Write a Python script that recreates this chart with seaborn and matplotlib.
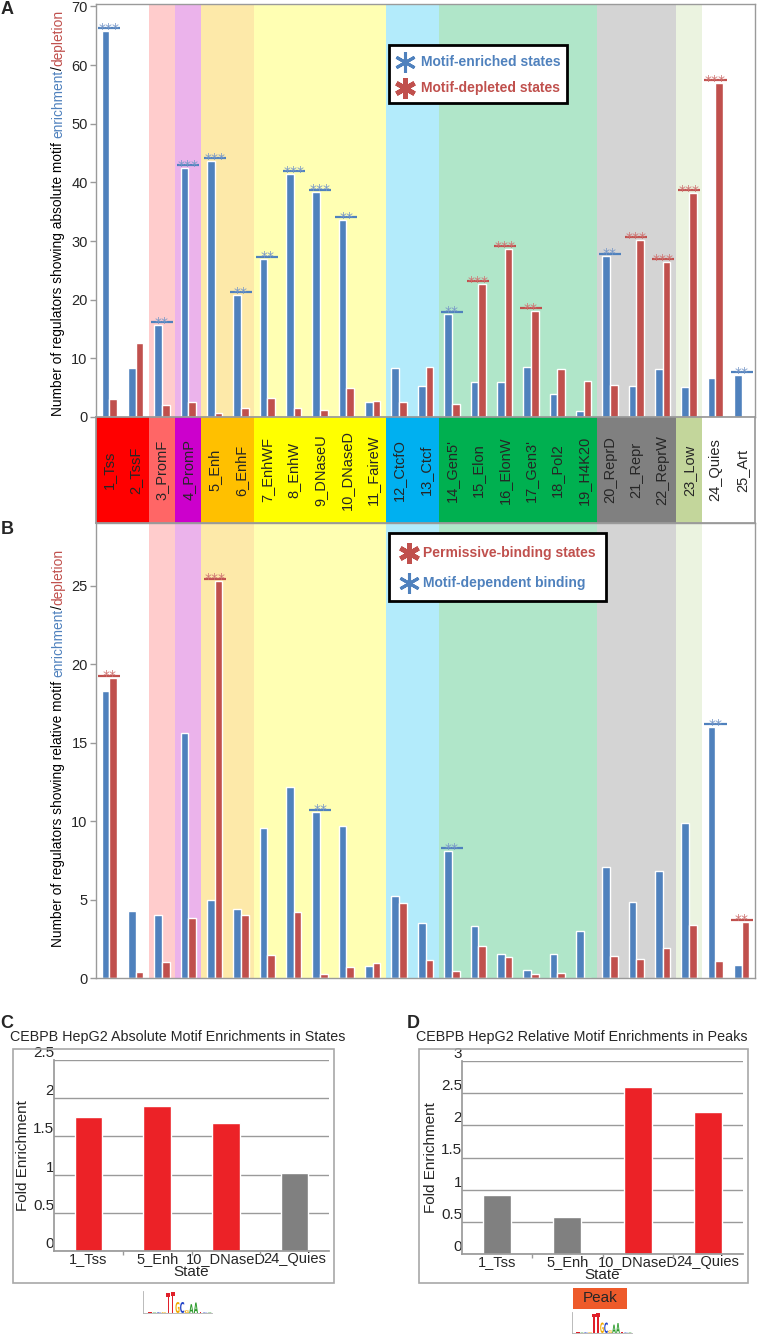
import numpy as np
import pandas as pd
import matplotlib
matplotlib.use("Agg")
import matplotlib.pyplot as plt
import matplotlib.transforms as mtransforms
from matplotlib.patches import Rectangle, PathPatch
from matplotlib.textpath import TextPath
from matplotlib.font_manager import FontProperties
import seaborn as sns

W, H = 758, 1334

# chromatin states (x categories of panels A and B)
states = ["1_Tss", "2_TssF", "3_PromF", "4_PromP", "5_Enh", "6_EnhF", "7_EnhWF",
          "8_EnhW", "9_DNaseU", "10_DNaseD", "11_FaireW", "12_CtcfO", "13_Ctcf",
          "14_Gen5'", "15_Elon", "16_ElonW", "17_Gen3'", "18_Pol2", "19_H4K20",
          "20_ReprD", "21_Repr", "22_ReprW", "23_Low", "24_Quies", "25_Art"]
group_sizes = [2, 1, 1, 2, 5, 2, 6, 3, 1, 2]
band_colors = ["#FF0000", "#FF6666", "#CC00CC", "#FFC000", "#FFFF00", "#00B0F0",
               "#00B050", "#808080", "#C3D69B", "#FFFFFF"]
pale_colors = ["#FFFFFF", "#FFCCCC", "#EBB3EB", "#FDE9A9", "#FFFFB3", "#B3EBFB",
               "#B0E6C9", "#D4D4D4", "#EBF3E0", "#FFFFFF"]

# panel A: absolute motif enrichment / depletion
abs_enriched = [65.8, 8.3, 15.7, 42.5, 43.7, 20.8, 26.9, 41.5, 38.3, 33.6, 2.5, 8.3, 5.2,
                17.5, 6.0, 6.0, 8.5, 4.0, 1.0, 27.4, 5.2, 8.2, 5.1, 6.6, 7.2]
abs_depleted = [3.0, 12.6, 2.0, 2.5, 0.7, 1.5, 3.2, 1.6, 1.2, 4.9, 2.8, 2.6, 8.6,
                2.3, 22.7, 28.7, 18.1, 8.1, 6.1, 5.4, 30.2, 26.5, 38.2, 57.0, 0.0]
abs_sig = ["***", "", "**", "***", "***", "**", "**", "***", "***", "**", "", "", "",
           "**", "***", "***", "**", "", "", "**", "***", "***", "***", "***", "**"]
abs_sig_on = ["blue", "", "blue", "blue", "blue", "blue", "blue", "blue", "blue", "blue",
              "", "", "", "blue", "red", "red", "red", "", "", "blue", "red", "red",
              "red", "red", "blue"]

# panel B: relative motif enrichment / depletion
rel_dependent = [18.3, 4.3, 4.0, 15.6, 5.0, 4.4, 9.55, 12.2, 10.55, 9.7, 0.77, 5.2, 3.5,
                 8.1, 3.3, 1.5, 0.5, 1.55, 3.0, 7.1, 4.85, 6.8, 9.85, 16.0, 0.83]
rel_permissive = [19.1, 0.4, 1.0, 3.8, 25.3, 4.0, 1.45, 4.2, 0.25, 0.7, 0.98, 4.8, 1.13,
                  0.45, 2.05, 1.35, 0.26, 0.35, 0.0, 1.4, 1.2, 1.9, 3.35, 1.1, 3.55]
rel_sig = ["**", "", "", "", "***", "", "", "", "**", "", "", "", "",
           "**", "", "", "", "", "", "", "", "", "", "**", "**"]
rel_sig_on = ["red", "", "", "", "red", "", "", "", "blue", "", "", "", "",
              "blue", "", "", "", "", "", "", "", "", "", "blue", "red"]

# panels C and D: CEBPB HepG2 example
cd_states = ["1_Tss", "5_Enh", "10_DNaseD", "24_Quies"]
c_fold = [1.75, 1.90, 1.68, 1.02]
c_signif = [True, True, True, False]
d_fold = [0.92, 0.58, 2.59, 2.20]
d_signif = [False, False, True, True]

# CEBP motif logo (letter, information height)
logo_letters = ["T", "A", "C", "G", "T", "T", "G", "C", "G", "A", "A", "T", "C", "A"]
logo_heights = [0.05, 0.05, 0.08, 0.08, 1.85, 1.95, 1.0, 1.0, 0.25, 0.8, 0.95, 0.08, 0.06, 0.05]

BLUE = "#4F81BD"
RED = "#C0504D"
BLUE_STAR = "#7898C8"
RED_STAR = "#CF7573"
GRID = "#9A9A9A"
BAR_RED = "#EC2227"
BAR_GRAY = "#808080"

sns.set_theme(style="white")
plt.rcParams["font.family"] = ["Liberation Sans", "DejaVu Sans"]

fig = plt.figure(figsize=(W / 100, H / 100), dpi=100)


def rect(l, t, r, b):
    return [l / W, 1 - b / H, (r - l) / W, (b - t) / H]


def state_panel(ax, blue_vals, red_vals, sig, sig_on, ymax, yticks):
    start = 0
    for size, col in zip(group_sizes, pale_colors):
        ax.axvspan(start - 0.5, start + size - 0.5, color=col, lw=0, zorder=0)
        start += size
    df = pd.DataFrame({
        "state": states * 2,
        "value": blue_vals + red_vals,
        "series": ["blue"] * len(states) + ["red"] * len(states),
    })
    sns.barplot(df, x="state", y="value", hue="series", order=states,
                hue_order=["blue", "red"], palette=[BLUE, RED], width=0.58,
                saturation=1, errorbar=None, legend=False, ax=ax, zorder=2)
    ax.set_xlim(-0.5, len(states) - 0.5)
    ax.set_ylim(0, ymax)
    ax.set_yticks(yticks)
    ax.set_xticks([])
    ax.set_xlabel("")
    ax.set_ylabel("")
    ax.tick_params(axis="y", left=True, length=4, width=1, color=GRID,
                   labelsize=10.5, pad=2)
    for sp in ax.spines.values():
        sp.set_color(GRID)
        sp.set_linewidth(1)

    line_tr = mtransforms.offset_copy(ax.transData, fig=fig, y=2.5, units="dots")
    star_tr = mtransforms.offset_copy(ax.transData, fig=fig, y=-2.0, units="dots")
    for i, (lvl, on) in enumerate(zip(sig, sig_on)):
        if not lvl:
            continue
        top = blue_vals[i] if on == "blue" else red_vals[i]
        c = BLUE if on == "blue" else RED
        cs = BLUE_STAR if on == "blue" else RED_STAR
        ax.plot([i - 0.42, i + 0.42], [top, top], color=c, lw=1.6,
                transform=line_tr, zorder=3, solid_capstyle="butt")
        ax.text(i, top, lvl, color=cs, fontsize=10, family="DejaVu Sans",
                ha="center", va="baseline", transform=star_tr, zorder=3)


def colored_ylabel(x_px, yc_px, parts, size):
    texts = [fig.text(x_px / W, 0, s, color=c, fontsize=size, rotation=90,
                      ha="center", va="bottom") for s, c in parts]
    fig.canvas.draw()
    r = fig.canvas.get_renderer()
    gap = size * 0.28 * 100 / 72
    hs = [t.get_window_extent(r).height for t in texts]
    total = sum(hs) + gap
    y = (H - yc_px) - total / 2
    for k, (t, h) in enumerate(zip(texts, hs)):
        t.set_position((x_px / W, y / H))
        y += h + (gap if k == 0 else 0)


# ---- panel A
ax_a = fig.add_axes(rect(96, 4, 755, 417))
state_panel(ax_a, abs_enriched, abs_depleted, abs_sig, abs_sig_on, 70.4,
            np.arange(0, 71, 10))

# ---- state label band
ax_band = fig.add_axes(rect(96, 417, 755, 523))
start = 0
for size, col in zip(group_sizes, band_colors):
    ax_band.axvspan(start - 0.5, start + size - 0.5, color=col, lw=0)
    start += size
for i, s in enumerate(states):
    ax_band.text(i, 0.5, s, rotation=90, ha="center", va="center", fontsize=10.5)
ax_band.set_xlim(-0.5, len(states) - 0.5)
ax_band.set_ylim(0, 1)
ax_band.set_xticks([])
ax_band.set_yticks([])
for sp in ax_band.spines.values():
    sp.set_color(GRID)

# ---- panel B
ax_b = fig.add_axes(rect(96, 523, 755, 978))
state_panel(ax_b, rel_dependent, rel_permissive, rel_sig, rel_sig_on, 29.0,
            np.arange(0, 26, 5))


# ---- panels C and D
def example_panel(box, frame, title, title_x, vals, signif, ymax):
    ax = fig.add_axes(rect(*box))
    pal = {s: (BAR_RED if f else BAR_GRAY) for s, f in zip(cd_states, signif)}
    sns.barplot(x=cd_states, y=vals, hue=cd_states, palette=pal, width=0.4,
                saturation=1, errorbar=None, legend=False, ax=ax)
    ax.set_ylim(0, ymax)
    ticks = np.arange(0, ymax + 0.01, 0.5)
    ax.set_yticks(ticks)
    ax.set_yticklabels([f"{t:g}" for t in ticks])
    ax.yaxis.grid(True, color=GRID, lw=1)
    ax.set_axisbelow(True)
    ax.set_xlim(-0.5, len(cd_states) - 0.5)
    ax.set_xticks(np.arange(len(cd_states) - 1) + 0.5, minor=True)
    ax.tick_params(axis="x", which="minor", bottom=True, length=3, color=GRID)
    ax.tick_params(axis="x", which="major", length=0, labelsize=10.5, pad=1)
    ax.tick_params(axis="y", length=0, labelsize=11, pad=0)
    for t in ax.get_yticklabels():
        t.set_verticalalignment("bottom")
    ax.set_xlabel("State", fontsize=11, labelpad=-1)
    ax.set_ylabel("Fold Enrichment", fontsize=11, labelpad=2)
    for k in ["top", "right"]:
        ax.spines[k].set_visible(False)
    for k in ["left", "bottom"]:
        ax.spines[k].set_color(GRID)
    fl, ft, fr, fb = frame
    fig.add_artist(Rectangle((fl / W, 1 - fb / H), (fr - fl) / W, (fb - ft) / H,
                             transform=fig.transFigure, fill=False, ec="#A8A8A8", lw=1.2))
    fig.text(title_x / W, 1 - 1037 / H, title, ha="center", va="center", fontsize=10.3)
    return ax


example_panel((54, 1060, 329, 1251), (13, 1049, 334, 1283),
              "CEBPB HepG2 Absolute Motif Enrichments in States", 178, c_fold, c_signif, 2.5)
example_panel((462, 1061, 743, 1254), (419, 1049, 748, 1283),
              "CEBPB HepG2 Relative Motif Enrichments in Peaks", 582, d_fold, d_signif, 3.0)


# ---- motif logos
logo_colors = {"A": "#2A9A2A", "C": "#2545C8", "G": "#F2A900", "T": "#E0202A"}
fp = FontProperties(family="DejaVu Sans", weight="bold")


def draw_logo(box):
    ax = fig.add_axes(rect(*box))
    n = len(logo_letters)
    for i, (ch, h) in enumerate(zip(logo_letters, logo_heights)):
        tp = TextPath((0, 0), ch, size=1, prop=fp)
        bb = tp.get_extents()
        tr = (mtransforms.Affine2D().translate(-bb.x0, -bb.y0)
              .scale(0.9 / bb.width, h / bb.height).translate(i + 0.05, 0))
        ax.add_patch(PathPatch(tr.transform_path(tp), fc=logo_colors[ch], lw=0))
    ax.set_xlim(-1, n)
    ax.set_ylim(0, 2)
    ax.set_xticks([])
    ax.set_yticks([])
    for k in ["top", "right"]:
        ax.spines[k].set_visible(False)
    for k in ["left", "bottom"]:
        ax.spines[k].set_color("#B0B0B0")
        ax.spines[k].set_linewidth(0.6)
    ax.patch.set_alpha(0)


draw_logo((143, 1291, 212, 1313))
draw_logo((572, 1312, 632, 1333))

# ---- overlay for legends, letters, peak box
ov = fig.add_axes([0, 0, 1, 1])
ov.set_xlim(0, W)
ov.set_ylim(H, 0)
ov.set_axis_off()
ov.set_zorder(10)

ov.add_patch(Rectangle((389, 45), 178, 58, fc="white", ec="black", lw=2))
ov.plot(405, 62, marker=(6, 2, 0), ms=15, mew=2.2, color=BLUE)
ov.text(421, 62, "Motif-enriched states", color=BLUE, fontsize=10,
        fontweight="bold", va="center")
ov.plot(405, 88, marker=(6, 2, 0), ms=15, mew=3.4, color=RED)
ov.text(421, 88, "Motif-depleted states", color=RED, fontsize=10,
        fontweight="bold", va="center")

ov.add_patch(Rectangle((389, 533), 217, 68, fc="white", ec="black", lw=2))
ov.plot(409, 553, marker=(6, 2, 0), ms=15, mew=3.4, color=RED)
ov.text(423, 553, "Permissive-binding states", color=RED, fontsize=10,
        fontweight="bold", va="center")
ov.plot(409, 583, marker=(6, 2, 0), ms=15, mew=2.2, color=BLUE)
ov.text(423, 583, "Motif-dependent binding", color=BLUE, fontsize=10,
        fontweight="bold", va="center")

ov.add_patch(Rectangle((573, 1288), 54, 21, fc="#EE5A2A", ec="none"))
ov.text(600, 1298.5, "Peak", fontsize=11, ha="center", va="center")

for letter, x, y in [("A", 7, 10), ("B", 7, 530), ("C", 7, 1023), ("D", 413, 1023)]:
    ov.text(x, y, letter, fontsize=13, fontweight="bold", ha="center", va="center")

# y labels with coloured words
colored_ylabel(58, 213, [("Number of regulators showing absolute motif", "black"),
                         ("enrichment", BLUE), ("/", "black"), ("depletion", RED)], 9.9)
colored_ylabel(58, 748, [("Number of regulators showing relative motif", "black"),
                         ("enrichment", BLUE), ("/", "black"), ("depletion", RED)], 9.9)

fig.savefig("out.png", dpi=100)
